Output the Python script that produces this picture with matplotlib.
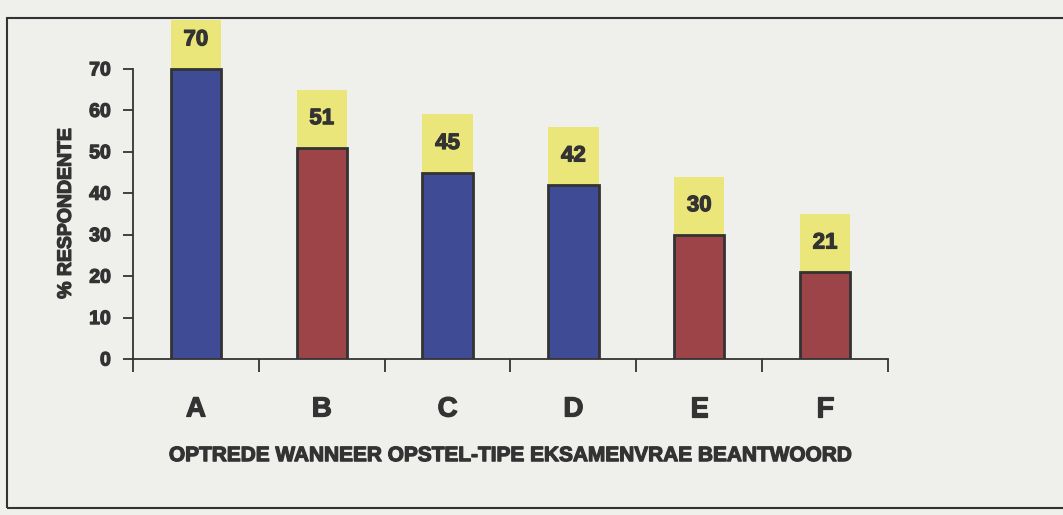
import matplotlib.pyplot as plt
import matplotlib.patheffects as pe
import numpy as np
from matplotlib.patches import Rectangle

categories = ["A", "B", "C", "D", "E", "F"]
values = [70, 51, 45, 42, 30, 21]
bar_colours = ["#3f4c95", "#9c4447", "#3f4c95", "#3f4c95", "#9c4447", "#9c4447"]
y_ticks = [0, 10, 20, 30, 40, 50, 60, 70]

BG = "#efefec"
INK = "#333333"
LABEL_BOX = 14  # height of the yellow value box, in % units
HEAVY = [pe.withStroke(linewidth=0.9, foreground=INK)]

plt.rcParams["font.family"] = ["Liberation Sans", "DejaVu Sans"]
plt.rcParams["font.weight"] = "bold"

fig = plt.figure(figsize=(10.63, 5.15), dpi=100, facecolor=BG)
ax = fig.add_axes([133 / 1063, 1 - 359 / 515, 755 / 1063, 339 / 515])
ax.set_facecolor(BG)

x = np.arange(len(categories))
ax.bar(x, values, width=0.4, color=bar_colours, edgecolor=INK, linewidth=2, zorder=3)
ax.bar(x, [LABEL_BOX] * len(values), bottom=values, width=0.4, color="#ebe67a",
       edgecolor="none", zorder=2)
for xi, v in zip(x, values):
    ax.text(xi, min(v + LABEL_BOX / 2, 77), str(v), ha="center", va="center",
            fontsize=16, fontweight="bold", color=INK, zorder=4, path_effects=HEAVY)

ax.set_xlim(-0.5, 5.5)
ax.set_ylim(0, 81.8)
ax.spines[["top", "right"]].set_visible(False)
ax.spines["left"].set_bounds(0, 70)
for s in ("left", "bottom"):
    ax.spines[s].set_color(INK)
    ax.spines[s].set_linewidth(1.3)

ax.set_yticks(y_ticks)
ax.set_yticklabels([str(t) for t in y_ticks], fontsize=14, fontweight="bold", color=INK)
ax.tick_params(axis="y", direction="out", length=7, width=1.3, color=INK, pad=9)

ax.set_xticks(x)
ax.set_xticklabels(categories, fontsize=20, fontweight="bold", color=INK)
ax.set_xticks(np.arange(-0.5, 6, 1), minor=True)
ax.tick_params(axis="x", which="major", length=0, pad=27)
ax.tick_params(axis="x", which="minor", direction="out", length=9, width=1.3, color=INK)
for lab in ax.get_xticklabels() + ax.get_yticklabels():
    lab.set_path_effects(HEAVY)

ax.set_xlabel("OPTREDE WANNEER OPSTEL-TIPE EKSAMENVRAE BEANTWOORD",
              fontsize=15, fontweight="bold", color=INK, labelpad=17,
              path_effects=HEAVY)
ax.set_ylabel("% RESPONDENTE", fontsize=14, fontweight="bold", color=INK,
              path_effects=HEAVY)
ax.yaxis.set_label_coords(-0.077, 0.43)

# outer frame around the chart area
fig.patches.append(Rectangle((7 / 1063, 7 / 515), 1060 / 1063, 490 / 515,
                             transform=fig.transFigure, fill=False,
                             edgecolor=INK, linewidth=1.5))

fig.savefig("out.png", dpi=100, facecolor=BG)
